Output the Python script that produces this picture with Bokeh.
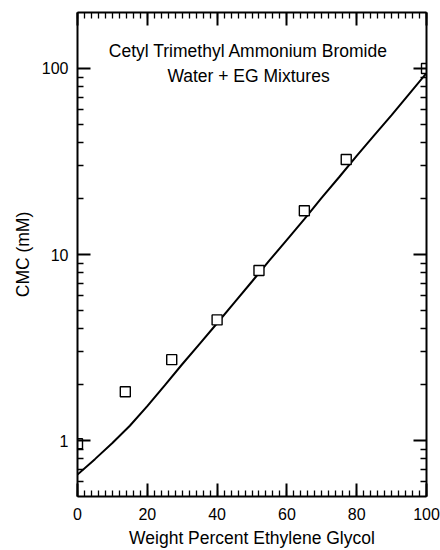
from bokeh.plotting import figure
from bokeh.models import Range1d, FixedTicker, LinearAxis, LogAxis, Label, PrintfTickFormatter
from bokeh.embed import file_html
from bokeh.resources import INLINE

# measured data (squares)
ww_data = [0, 13.7, 27, 40, 52, 65, 77, 100]
cmc_data = [0.96, 1.83, 2.72, 4.45, 8.2, 17.2, 32.4, 100]

# fitted curve
ww_fit = [0, 5, 10, 15, 20, 25, 30, 35, 40, 45, 50, 55, 60, 65, 70, 75, 80, 85, 90, 95, 100]
cmc_fit = [0.656, 0.794, 0.970, 1.20, 1.53, 1.98, 2.57, 3.31, 4.27, 5.53, 7.16, 9.29,
           12.0, 15.5, 20.2, 26.1, 33.9, 43.7, 56.2, 72.9, 94.4]

x_major = [0, 20, 40, 60, 80, 100]
x_minor = list(range(0, 101, 2))
y_major = [1, 10, 100]
y_minor = [0.6, 0.7, 0.8, 0.9, 2, 3, 4, 5, 6, 7, 8, 9, 20, 30, 40, 50, 60, 70, 80, 90]

title_lines = ["Cetyl Trimethyl Ammonium Bromide", "Water + EG Mixtures"]
title_x = 49
title_y = [124, 91.5]

FONT = "Liberation Sans"

p = figure(width=440, height=550, x_range=Range1d(0, 100), y_range=Range1d(0.5, 200),
           y_axis_type="log", output_backend="svg", toolbar_location=None,
           min_border_left=77, min_border_right=14, min_border_top=12, min_border_bottom=54)
p.grid.visible = False
p.outline_line_color = None
p.background_fill_color = "white"
p.border_fill_color = "white"

def style(ax, labels=True):
    ax.axis_line_color = "black"
    ax.axis_line_width = 2
    ax.major_tick_in = 13
    ax.major_tick_out = 0
    ax.minor_tick_in = 6
    ax.minor_tick_out = 0
    ax.major_tick_line_width = 2
    ax.minor_tick_line_width = 1.3
    ax.major_tick_line_color = "black"
    ax.minor_tick_line_color = "black"
    ax.major_label_text_font = FONT
    if labels:
        ax.major_label_text_font_size = "16px"
        ax.major_label_text_color = "black"
    else:
        ax.major_label_text_font_size = "1px"
        ax.major_label_text_color = None
    ax.axis_label_text_font = FONT
    ax.axis_label_text_font_size = "17.5px"
    ax.axis_label_text_font_style = "normal"
    ax.axis_label_text_color = "black"

xa = p.xaxis[0]
xa.ticker = FixedTicker(ticks=x_major, minor_ticks=x_minor)
xa.axis_label = "Weight Percent Ethylene Glycol"
style(xa)
xa.major_label_standoff = 11
xa.axis_label_standoff = 5

ya = p.yaxis[0]
ya.ticker = FixedTicker(ticks=y_major, minor_ticks=y_minor)
ya.formatter = PrintfTickFormatter(format="%d")
ya.axis_label = "CMC (mM)"
style(ya)
ya.major_label_standoff = 9
ya.axis_label_standoff = 6

top = LinearAxis(ticker=FixedTicker(ticks=x_major, minor_ticks=x_minor))
style(top, labels=False)
top.major_label_standoff = 0
p.add_layout(top, "above")

right = LogAxis(ticker=FixedTicker(ticks=y_major, minor_ticks=y_minor))
right.formatter = PrintfTickFormatter(format="%d")
style(right, labels=False)
right.major_label_standoff = 0
p.add_layout(right, "right")

p.line(ww_fit, cmc_fit, line_color="black", line_width=2)
p.scatter(ww_data, cmc_data, marker="square", size=10, fill_color="white",
          line_color="black", line_width=1.4)

for t, yy in zip(title_lines, title_y):
    p.add_layout(Label(x=title_x, y=yy, text=t, text_align="center", text_baseline="alphabetic",
                       text_font=FONT, text_font_size="17.5px", text_color="black"))

open("out.html", "w").write(file_html(p, INLINE))
